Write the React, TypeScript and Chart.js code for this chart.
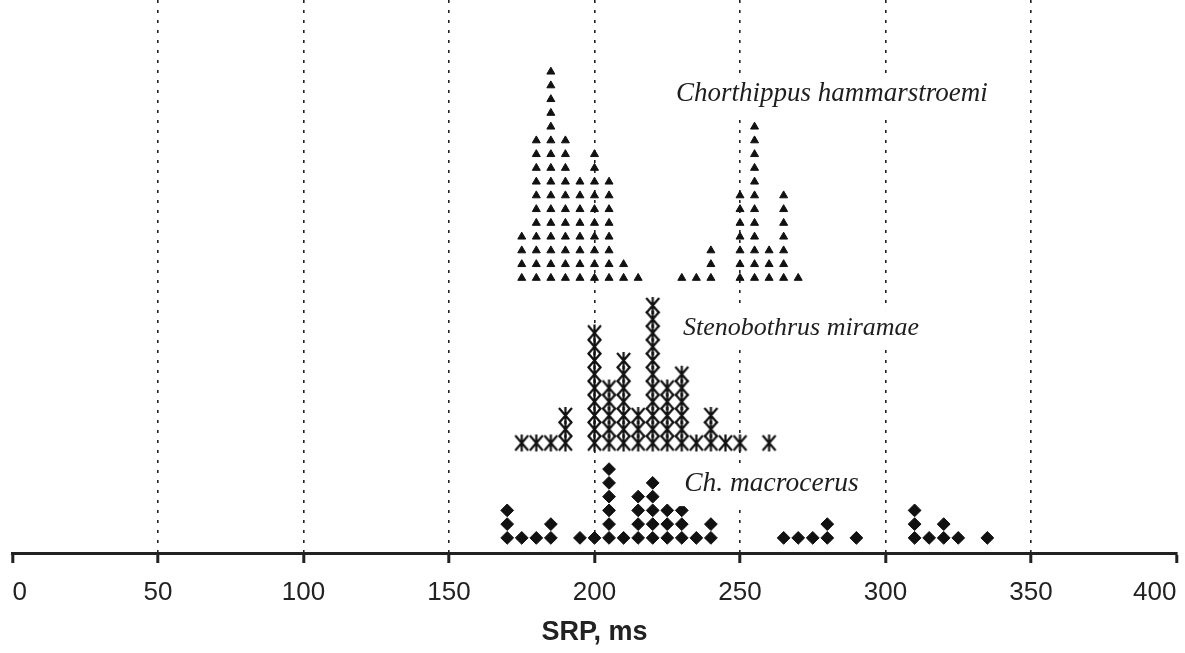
import React, { useEffect, useRef } from 'react';
import { Chart, registerables } from 'chart.js';

Chart.register(...registerables);

// SRP bins (ms) and number of stacked marks per bin
const binsTri = [175, 180, 185, 190, 195, 200, 205, 210, 215, 230, 235, 240, 250, 255, 260, 265, 270];
const countsTri = [4, 11, 16, 11, 8, 10, 8, 2, 1, 1, 1, 3, 7, 12, 3, 7, 1];

const binsStar = [175, 180, 185, 190, 200, 205, 210, 215, 220, 225, 230, 235, 240, 245, 250, 260];
const countsStar = [1, 1, 1, 3, 9, 5, 7, 3, 11, 5, 6, 1, 3, 1, 1, 1];

const binsDia = [170, 175, 180, 185, 195, 200, 205, 210, 215, 220, 225, 230, 235, 240, 265, 270, 275, 280, 290, 310, 315, 320, 325, 335];
const countsDia = [3, 1, 1, 2, 1, 1, 6, 1, 4, 5, 3, 3, 1, 2, 1, 1, 1, 2, 1, 3, 1, 2, 1, 1];

const xTicks = [0, 50, 100, 150, 200, 250, 300, 350, 400];
const speciesNames = ['Chorthippus hammarstroemi', 'Stenobothrus miramae', 'Ch. macrocerus'];
const axisTitle = 'SRP, ms';

// layout (row units on hidden y axis)
const baseRows = [20, 8, 1.1];
const labelX = [228, 230.4, 230.8];
const labelY = [32.85, 15.85, 4.5];
const labelSize = [27, 26, 27.5];
const ROW_MAX = 553 / 13.75;

function stack(bins: number[], counts: number[], base: number) {
  const pts: { x: number; y: number }[] = [];
  bins.forEach((b, i) => {
    for (let k = 0; k < counts[i]; k++) pts.push({ x: b, y: base + k });
  });
  return pts;
}

const labelPlugin = {
  id: 'speciesLabels',
  afterDatasetsDraw(chart: any) {
    const { ctx, scales } = chart;
    const x = scales.x;
    const y = scales.y;
    ctx.save();
    ctx.textBaseline = 'alphabetic';
    ctx.textAlign = 'left';
    speciesNames.forEach((name, i) => {
      ctx.font = `italic ${labelSize[i]}px "Liberation Serif", "Times New Roman", serif`;
      const px = x.getPixelForValue(labelX[i]);
      const py = y.getPixelForValue(labelY[i]);
      const w = ctx.measureText(name).width;
      ctx.fillStyle = '#ffffff';
      ctx.fillRect(px - 6, py - 25, w + 12, 40);
      ctx.fillStyle = '#1e1e1e';
      ctx.fillText(name, px, py);
    });
    ctx.restore();
  },
};

export default function App() {
  const ref = useRef<HTMLCanvasElement | null>(null);

  useEffect(() => {
    if (!ref.current) return;
    const star = document.createElement('canvas');
    star.width = 17;
    star.height = 19;
    const g = star.getContext('2d')!;
    g.strokeStyle = '#111';
    g.lineWidth = 2.2;
    g.beginPath();
    g.moveTo(2, 2);
    g.lineTo(15, 17);
    g.moveTo(15, 2);
    g.lineTo(2, 17);
    g.moveTo(8.5, 1);
    g.lineTo(8.5, 18);
    g.stroke();

    const chart = new Chart(ref.current, {
      type: 'scatter',
      data: {
        datasets: [
          {
            label: speciesNames[0],
            data: stack(binsTri, countsTri, baseRows[0]),
            pointStyle: 'triangle',
            pointRadius: 4.6,
            backgroundColor: '#111',
            borderColor: '#111',
            borderWidth: 1,
          },
          {
            label: speciesNames[1],
            data: stack(binsStar, countsStar, baseRows[1]),
            pointStyle: star as any,
            pointRadius: 7,
            backgroundColor: '#111',
            borderColor: '#111',
          },
          {
            label: speciesNames[2],
            data: stack(binsDia, countsDia, baseRows[2]),
            pointStyle: 'rectRot',
            pointRadius: 6.4,
            backgroundColor: '#111',
            borderColor: '#111',
            borderWidth: 1,
          },
        ],
      },
      options: {
        animation: false,
        responsive: false,
        layout: { autoPadding: false, padding: { left: 12.5, right: 8.5, top: 0, bottom: 0 } },
        plugins: { legend: { display: false }, tooltip: { enabled: false } },
        scales: {
          x: {
            type: 'linear',
            min: 0,
            max: 400,
            afterBuildTicks: (s: any) => {
              s.ticks = xTicks.map((v) => ({ value: v }));
            },
            afterFit: (s: any) => {
              s.height = 100;
              s.paddingLeft = 0;
              s.paddingRight = 0;
            },
            grid: {
              color: (c: any) =>
                c.tick && (c.tick.value === 0 || c.tick.value === 400) ? 'rgba(0,0,0,0)' : '#222',
              lineWidth: 1.6,
              tickColor: '#222',
              tickWidth: 3,
              tickLength: 10,
              tickBorderDash: [],
            } as any,
            border: { display: true, color: '#222', width: 3, dash: [3, 7] },
            ticks: {
              align: 'inner',
              autoSkip: false,
              maxRotation: 0,
              padding: 14,
              color: '#222',
              font: { family: '"Liberation Sans", Arial, sans-serif', size: 26 },
            },
            title: {
              display: true,
              text: axisTitle,
              color: '#222',
              font: { family: '"Liberation Sans", Arial, sans-serif', size: 27, weight: 'bold' },
              padding: { top: 0, bottom: 4 },
            },
          },
          y: { type: 'linear', display: false, min: 0, max: ROW_MAX },
        },
      } as any,
      plugins: [labelPlugin],
    });
    return () => chart.destroy();
  }, []);

  return (
    <div style={{ position: 'absolute', left: 0, top: 0, width: 1185, height: 653, background: '#fff' }}>
      <canvas ref={ref} width={1185} height={653} style={{ display: 'block' }} />
    </div>
  );
}
